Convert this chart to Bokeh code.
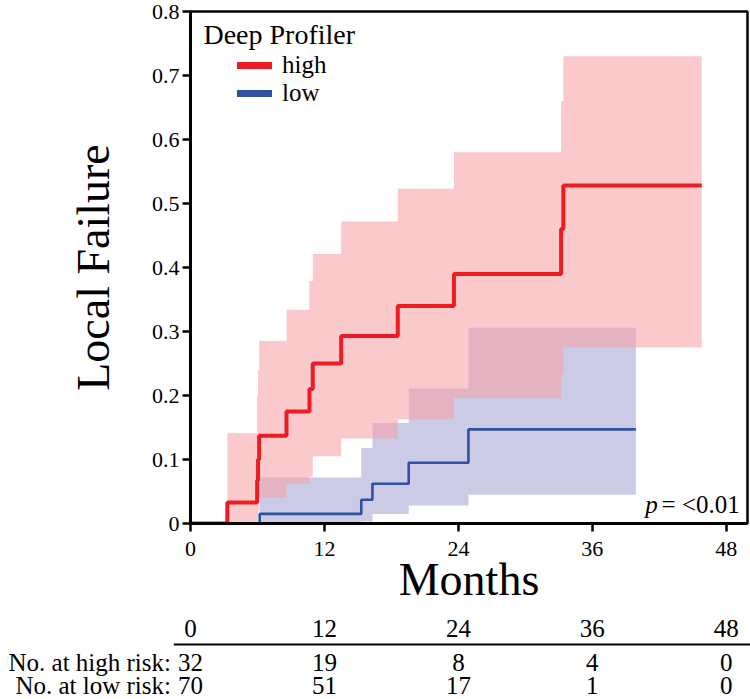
from bokeh.plotting import figure
from bokeh.models import Range1d, FixedTicker, Legend, LegendItem, Label
from bokeh.layouts import column
from bokeh.embed import file_html
from bokeh.resources import INLINE
from bokeh.core.properties import value

# ---------------- data ----------------
# high-risk group (Deep Profiler = high): event times (months) and cumulative local failure
high_t = [0, 3.3, 5.97, 6.05, 6.15, 8.6, 10.66, 10.95, 13.5, 18.57, 23.6, 33.2, 33.4]
high_v = [0, 0.033, 0.067, 0.10, 0.137, 0.175, 0.21, 0.25, 0.293, 0.34, 0.39, 0.46, 0.528]
high_lo = [0, 0, 0, 0.02, 0.04, 0.062, 0.073, 0.105, 0.133, 0.163, 0.196, 0.233, 0.275]
high_hi = [0, 0.141, 0.20, 0.24, 0.285, 0.334, 0.379, 0.421, 0.472, 0.523, 0.58, 0.66, 0.73]
high_end = 45.8

# low-risk group
low_t = [0, 6.2, 15.3, 16.3, 19.55, 24.9]
low_v = [0, 0.015, 0.037, 0.062, 0.095, 0.147]
low_lo = [0, 0, 0.003, 0.015, 0.028, 0.045]
low_hi = [0, 0.072, 0.118, 0.157, 0.211, 0.306]
low_end = 39.9

x_ticks = [0, 12, 24, 36, 48]
y_ticks = [0, 0.1, 0.2, 0.3, 0.4, 0.5, 0.6, 0.7, 0.8]
y_tick_labels = ["0", "0.1", "0.2", "0.3", "0.4", "0.5", "0.6", "0.7", "0.8"]
risk_high = [32, 19, 8, 4, 0]
risk_low = [70, 51, 17, 1, 0]
row_labels = ["No. at high risk:", "No. at low risk:"]
p_text = "= <0.01"

RED = "#ED1C24"
BLUE = "#3050A4"
FONT = "'Liberation Serif', 'Times New Roman', serif"

X_MAX = 49.9
W = 750
ML, MR = 190, 3
FRAME_W = W - ML - MR
PXPM = FRAME_W / X_MAX
PH = 614
TH = 85


def ext(t, v, end):
    return list(t) + [end], list(v) + [v[-1]]


p = figure(width=W, height=PH, x_range=Range1d(0, X_MAX), y_range=Range1d(0, 0.8),
           output_backend="svg", toolbar_location=None,
           min_border_left=ML, min_border_right=MR, min_border_top=11, min_border_bottom=91)
p.grid.visible = False
p.outline_line_color = "black"
p.outline_line_width = 2.5
p.background_fill_color = "white"

# confidence bands
hx, hlo = ext(high_t, high_lo, high_end)
_, hhi = ext(high_t, high_hi, high_end)
lx, llo = ext(low_t, low_lo, low_end)
_, lhi = ext(low_t, low_hi, low_end)

p.varea_step(x=lx, y1=llo, y2=lhi, step_mode="after", fill_color="#8B8BC7", fill_alpha=0.45)
p.varea_step(x=hx, y1=hlo, y2=hhi, step_mode="after", fill_color="#F6A2A7", fill_alpha=0.58)

# step curves
lxx, lvv = ext(low_t, low_v, low_end)
hxx, hvv = ext(high_t, high_v, high_end)
p.step(x=lxx, y=lvv, mode="after", line_color=BLUE, line_width=2.6)
p.step(x=hxx, y=hvv, mode="after", line_color=RED, line_width=4)

# legend (invisible renderers used only for thicker legend strokes)
nan = float("nan")
r_high = p.line(x=[nan], y=[nan], line_color=RED, line_width=7, line_cap="round")
r_low = p.line(x=[nan], y=[nan], line_color=BLUE, line_width=7, line_cap="round")
legend = Legend(items=[LegendItem(label="high", renderers=[r_high]),
                       LegendItem(label="low", renderers=[r_low])],
                location=(47, 416), orientation="vertical",
                label_text_font=FONT, label_text_font_size="25px", label_text_color="black",
                label_height=26, glyph_height=26, glyph_width=35,
                label_standoff=10, spacing=0, padding=0, margin=0,
                border_line_color=None, background_fill_alpha=0)
p.add_layout(legend)

p.add_layout(Label(x=1.16, y=0.764, text="Deep Profiler", text_font=FONT, text_color="black",
                   text_font_size="28px", text_baseline="middle", text_align="left"))

# p-value
p.add_layout(Label(x=42.2, y=0.029, text=p_text, text_font=FONT, text_color="black",
                   text_font_size="25px", text_baseline="middle", text_align="left"))
p.add_layout(Label(x=41.85, y=0.029, text="p", text_font=FONT, text_font_style="italic",
                   text_color="black", text_font_size="25px", text_baseline="middle",
                   text_align="right"))

# axes
for ax in (p.xaxis[0], p.yaxis[0]):
    ax.axis_line_width = 3
    ax.major_tick_line_width = 2.5
    ax.major_tick_out = 8
    ax.major_tick_in = 0
    ax.minor_tick_line_color = None
    ax.major_label_text_font = FONT
    ax.major_label_text_font_size = "22px"
    ax.major_label_text_color = "black"
    ax.axis_label_text_font = FONT
    ax.axis_label_text_font_size = "46px"
    ax.axis_label_text_font_style = "normal"
    ax.axis_label_text_color = "black"

p.xaxis.ticker = FixedTicker(ticks=x_ticks)
p.yaxis.ticker = FixedTicker(ticks=y_ticks)
p.yaxis.major_label_overrides = {t: s for t, s in zip(y_ticks, y_tick_labels)}
p.xaxis.axis_label = "Months"
p.yaxis.axis_label = "Local Failure"
p.xaxis.major_label_standoff = 10
p.yaxis.major_label_standoff = 3
p.xaxis.axis_label_standoff = -5
p.yaxis.axis_label_standoff = 30

# ---------------- number at risk table ----------------
t = figure(width=W, height=TH, x_range=Range1d(-ML / PXPM, (W - ML) / PXPM),
           y_range=Range1d(TH, 0), output_backend="svg", toolbar_location=None,
           x_axis_location=None, y_axis_location=None, frame_align=False,
           min_border_left=0, min_border_right=0, min_border_top=0, min_border_bottom=0)
t.grid.visible = False
t.outline_line_color = None

Y_HEAD, Y_RULE, Y_R1, Y_R2 = 14, 30, 48, 71
kw = dict(text_font=value(FONT), text_font_size="25px", text_baseline="middle", text_color="black")
t.text(x=x_ticks, y=[Y_HEAD] * len(x_ticks), text=[str(v) for v in x_ticks], text_align="center", **kw)
t.text(x=x_ticks, y=[Y_R1] * len(x_ticks), text=[str(v) for v in risk_high], text_align="center", **kw)
t.text(x=x_ticks, y=[Y_R2] * len(x_ticks), text=[str(v) for v in risk_low], text_align="center", **kw)
t.text(x=[x_ticks[0] - 1.75] * 2, y=[Y_R1, Y_R2], text=row_labels, text_align="right", **kw)
t.segment(x0=[x_ticks[0] - 1.5], y0=[Y_RULE], x1=[(W - ML) / PXPM], y1=[Y_RULE],
          line_color="black", line_width=2)

layout = column(p, t, spacing=0)
open("out.html", "w").write(file_html(layout, INLINE))
